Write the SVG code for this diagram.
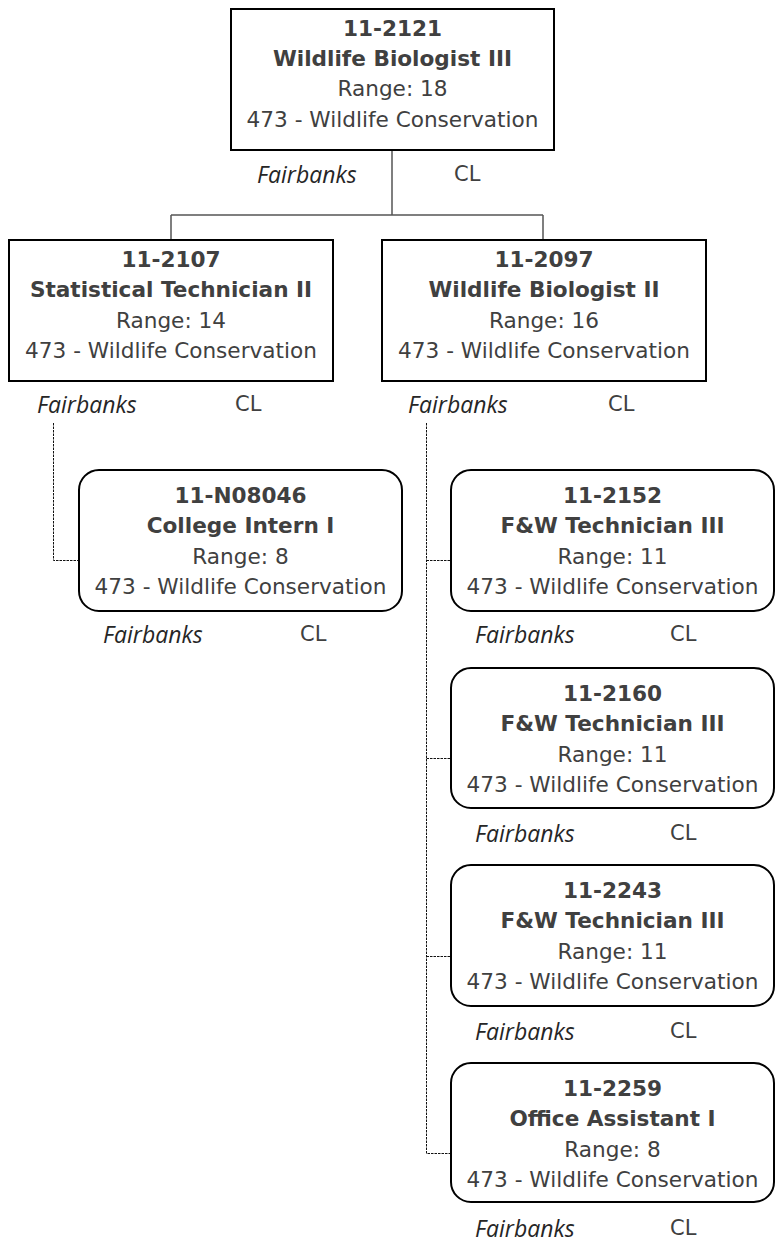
<svg xmlns="http://www.w3.org/2000/svg" width="783" height="1249" viewBox="0 0 783 1249">
<style>
.box{fill:#fff;stroke:#000;stroke-width:2}
.t{font-family:"DejaVu Sans",Verdana,sans-serif;font-size:21.6px;fill:#404040;text-anchor:middle}
.b{font-weight:bold}
.loc{font-family:"Open Sans","Lato",sans-serif;font-style:italic;font-size:23px;fill:#262626}
.cl{font-family:"DejaVu Sans",Verdana,sans-serif;font-size:21px;fill:#404040}
.solid{fill:none;stroke:#555;stroke-width:1.5}
.dash{fill:none;stroke:#111;stroke-width:1;stroke-dasharray:2.5 1}
</style>
<rect width="783" height="1249" fill="#fff"/>
<g id="connectors">
<path class="solid" d="M392 150V215M171 215H543M171 215V240M543 215V240"/>
<path class="dash" d="M53.5 423V560.5H79"/>
<path class="dash" d="M426.5 423V1153.5H451M426.5 560.5H451M426.5 758.5H451M426.5 956.5H451"/>
</g>
<g id="n-11-2121">
<rect class="box" x="231" y="9" width="323" height="141"/>
<text class="t b" x="392.5" y="36">11-2121</text>
<text class="t b" x="392.5" y="66">Wildlife Biologist III</text>
<text class="t" x="392.5" y="96">Range: 18</text>
<text class="t" x="392.5" y="127">473 - Wildlife Conservation</text>
<text class="loc" x="257" y="183">Fairbanks</text>
<text class="cl" x="454" y="181">CL</text>
</g>
<g id="n-11-2107">
<rect class="box" x="9" y="240" width="324" height="141"/>
<text class="t b" x="171" y="267">11-2107</text>
<text class="t b" x="171" y="297">Statistical Technician II</text>
<text class="t" x="171" y="328">Range: 14</text>
<text class="t" x="171" y="358">473 - Wildlife Conservation</text>
<text class="loc" x="37" y="413">Fairbanks</text>
<text class="cl" x="235" y="411">CL</text>
</g>
<g id="n-11-2097">
<rect class="box" x="382" y="240" width="324" height="141"/>
<text class="t b" x="544" y="267">11-2097</text>
<text class="t b" x="544" y="297">Wildlife Biologist II</text>
<text class="t" x="544" y="328">Range: 16</text>
<text class="t" x="544" y="358">473 - Wildlife Conservation</text>
<text class="loc" x="408" y="413">Fairbanks</text>
<text class="cl" x="608" y="411">CL</text>
</g>
<g id="n-11-N08046">
<rect class="box" x="79" y="470" width="323" height="141" rx="20"/>
<text class="t b" x="240.5" y="503">11-N08046</text>
<text class="t b" x="240.5" y="533">College Intern I</text>
<text class="t" x="240.5" y="564">Range: 8</text>
<text class="t" x="240.5" y="594">473 - Wildlife Conservation</text>
<text class="loc" x="103" y="643">Fairbanks</text>
<text class="cl" x="300" y="641">CL</text>
</g>
<g id="n-11-2152">
<rect class="box" x="451" y="470" width="323" height="141" rx="20"/>
<text class="t b" x="612.5" y="503">11-2152</text>
<text class="t b" x="612.5" y="533">F&amp;W Technician III</text>
<text class="t" x="612.5" y="564">Range: 11</text>
<text class="t" x="612.5" y="594">473 - Wildlife Conservation</text>
<text class="loc" x="475" y="643">Fairbanks</text>
<text class="cl" x="670" y="641">CL</text>
</g>
<g id="n-11-2160">
<rect class="box" x="451" y="668" width="323" height="140" rx="20"/>
<text class="t b" x="612.5" y="701">11-2160</text>
<text class="t b" x="612.5" y="731">F&amp;W Technician III</text>
<text class="t" x="612.5" y="762">Range: 11</text>
<text class="t" x="612.5" y="792">473 - Wildlife Conservation</text>
<text class="loc" x="475" y="842">Fairbanks</text>
<text class="cl" x="670" y="840">CL</text>
</g>
<g id="n-11-2243">
<rect class="box" x="451" y="865" width="323" height="141" rx="20"/>
<text class="t b" x="612.5" y="898">11-2243</text>
<text class="t b" x="612.5" y="928">F&amp;W Technician III</text>
<text class="t" x="612.5" y="959">Range: 11</text>
<text class="t" x="612.5" y="989">473 - Wildlife Conservation</text>
<text class="loc" x="475" y="1040">Fairbanks</text>
<text class="cl" x="670" y="1038">CL</text>
</g>
<g id="n-11-2259">
<rect class="box" x="451" y="1063" width="323" height="139" rx="20"/>
<text class="t b" x="612.5" y="1096">11-2259</text>
<text class="t b" x="612.5" y="1126">Office Assistant I</text>
<text class="t" x="612.5" y="1157">Range: 8</text>
<text class="t" x="612.5" y="1187">473 - Wildlife Conservation</text>
<text class="loc" x="475" y="1237">Fairbanks</text>
<text class="cl" x="670" y="1235">CL</text>
</g>
</svg>
